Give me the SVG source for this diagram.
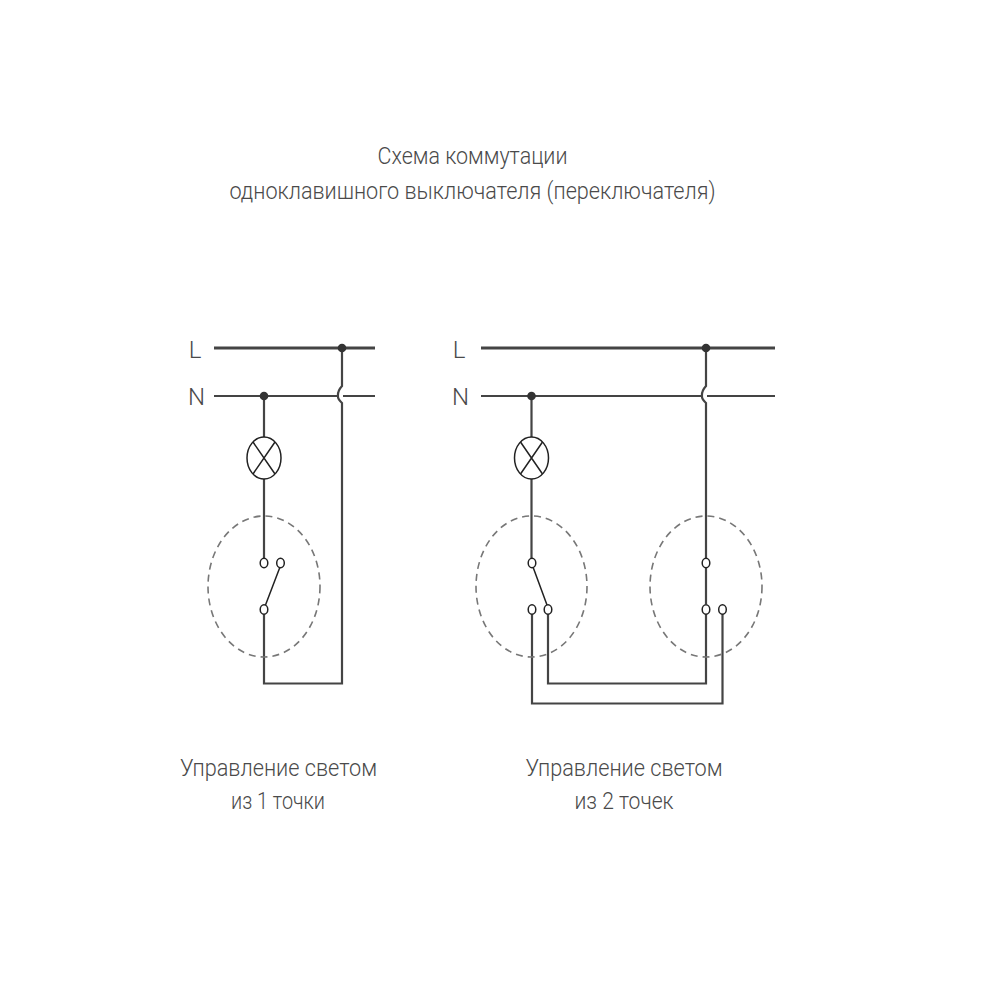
<svg xmlns="http://www.w3.org/2000/svg" width="1000" height="1000" viewBox="0 0 1000 1000">
<style>
text{font-family:"Roboto","Open Sans","Liberation Sans",sans-serif;font-weight:300;font-size:23px;fill:#4a4a4a;text-anchor:middle}
.k{font-size:24px}
.w{fill:none;stroke:#444;stroke-width:2.200;stroke-linejoin:miter}
.b{fill:none;stroke:#444;stroke-width:3}
.d{fill:#333}
.g{fill:none;stroke:#777;stroke-width:1.600;stroke-dasharray:7 5}
.t{fill:#fff;stroke:#222;stroke-width:1.500}
.s{fill:none;stroke:#222;stroke-width:1.500}
</style>
<rect width="1000" height="1000" fill="#fff"/>
<g id="title"><text x="472.500" y="164" textLength="190" lengthAdjust="spacingAndGlyphs">Схема коммутации</text><text x="472.500" y="199" textLength="486" lengthAdjust="spacingAndGlyphs">одноклавишного выключателя (переключателя)</text></g>
<g id="connectors">
<path class="b" d="M214 348H375M481 348H775"/>
<path class="w" d="M214 396H338M343 396H375M481 396H702M707 396H775"/>
<path class="w" d="M264 396V437M264 479V558M264 614V683.500H342V403Q337.500 399 338 396Q337.500 391 342 386V348"/>
<path class="w" d="M531.500 396V437M531.500 479V558M532 614V703.500H722.500V614M548 614V683.500H706V614M706 604V568M706 558V403Q701.500 399 702 396Q701.500 391 706 386V348"/>
<path class="s" d="M280 567L265.500 605M533 567L547 605"/>
</g>
<g id="L1"><text class="k" x="195" y="358">L</text><circle class="d" cx="342" cy="348" r="4.300"/></g>
<g id="N1"><text class="k" x="196.500" y="405">N</text><circle class="d" cx="264" cy="396" r="4.300"/></g>
<g id="L2"><text class="k" x="459" y="358">L</text><circle class="d" cx="706" cy="348" r="4.300"/></g>
<g id="N2"><text class="k" x="460.500" y="405">N</text><circle class="d" cx="531.500" cy="396" r="4.300"/></g>
<g id="lamp1"><ellipse class="t" cx="264" cy="458" rx="17" ry="21"/><path class="s" d="M253 442L275 474M275 442L253 474"/></g>
<g id="lamp2"><ellipse class="t" cx="531.500" cy="458" rx="17" ry="21"/><path class="s" d="M520.500 442L542.500 474M542.500 442L520.500 474"/></g>
<g id="switch1"><ellipse class="g" cx="264" cy="586.500" rx="56" ry="70.500"/><ellipse class="t" cx="264" cy="563" rx="3.800" ry="4.800"/><ellipse class="t" cx="280.500" cy="563" rx="3.800" ry="4.800"/><ellipse class="t" cx="264" cy="609.500" rx="3.800" ry="4.800"/></g>
<g id="switch2"><ellipse class="g" cx="531.500" cy="586.500" rx="55.500" ry="70.500"/><ellipse class="t" cx="532" cy="563" rx="3.800" ry="4.800"/><ellipse class="t" cx="532" cy="609.500" rx="3.800" ry="4.800"/><ellipse class="t" cx="548" cy="609.500" rx="3.800" ry="4.800"/></g>
<g id="switch3"><ellipse class="g" cx="706" cy="586.500" rx="56" ry="70.500"/><ellipse class="t" cx="706" cy="563" rx="3.800" ry="4.800"/><ellipse class="t" cx="706" cy="609.500" rx="3.800" ry="4.800"/><ellipse class="t" cx="722.500" cy="609.500" rx="3.800" ry="4.800"/></g>
<g id="caption1"><text x="278.500" y="776" textLength="197" lengthAdjust="spacingAndGlyphs">Управление светом</text><text x="278" y="809" textLength="94" lengthAdjust="spacingAndGlyphs">из 1 точки</text></g>
<g id="caption2"><text x="624" y="776" textLength="197" lengthAdjust="spacingAndGlyphs">Управление светом</text><text x="624" y="809" textLength="99" lengthAdjust="spacingAndGlyphs">из 2 точек</text></g>
</svg>
